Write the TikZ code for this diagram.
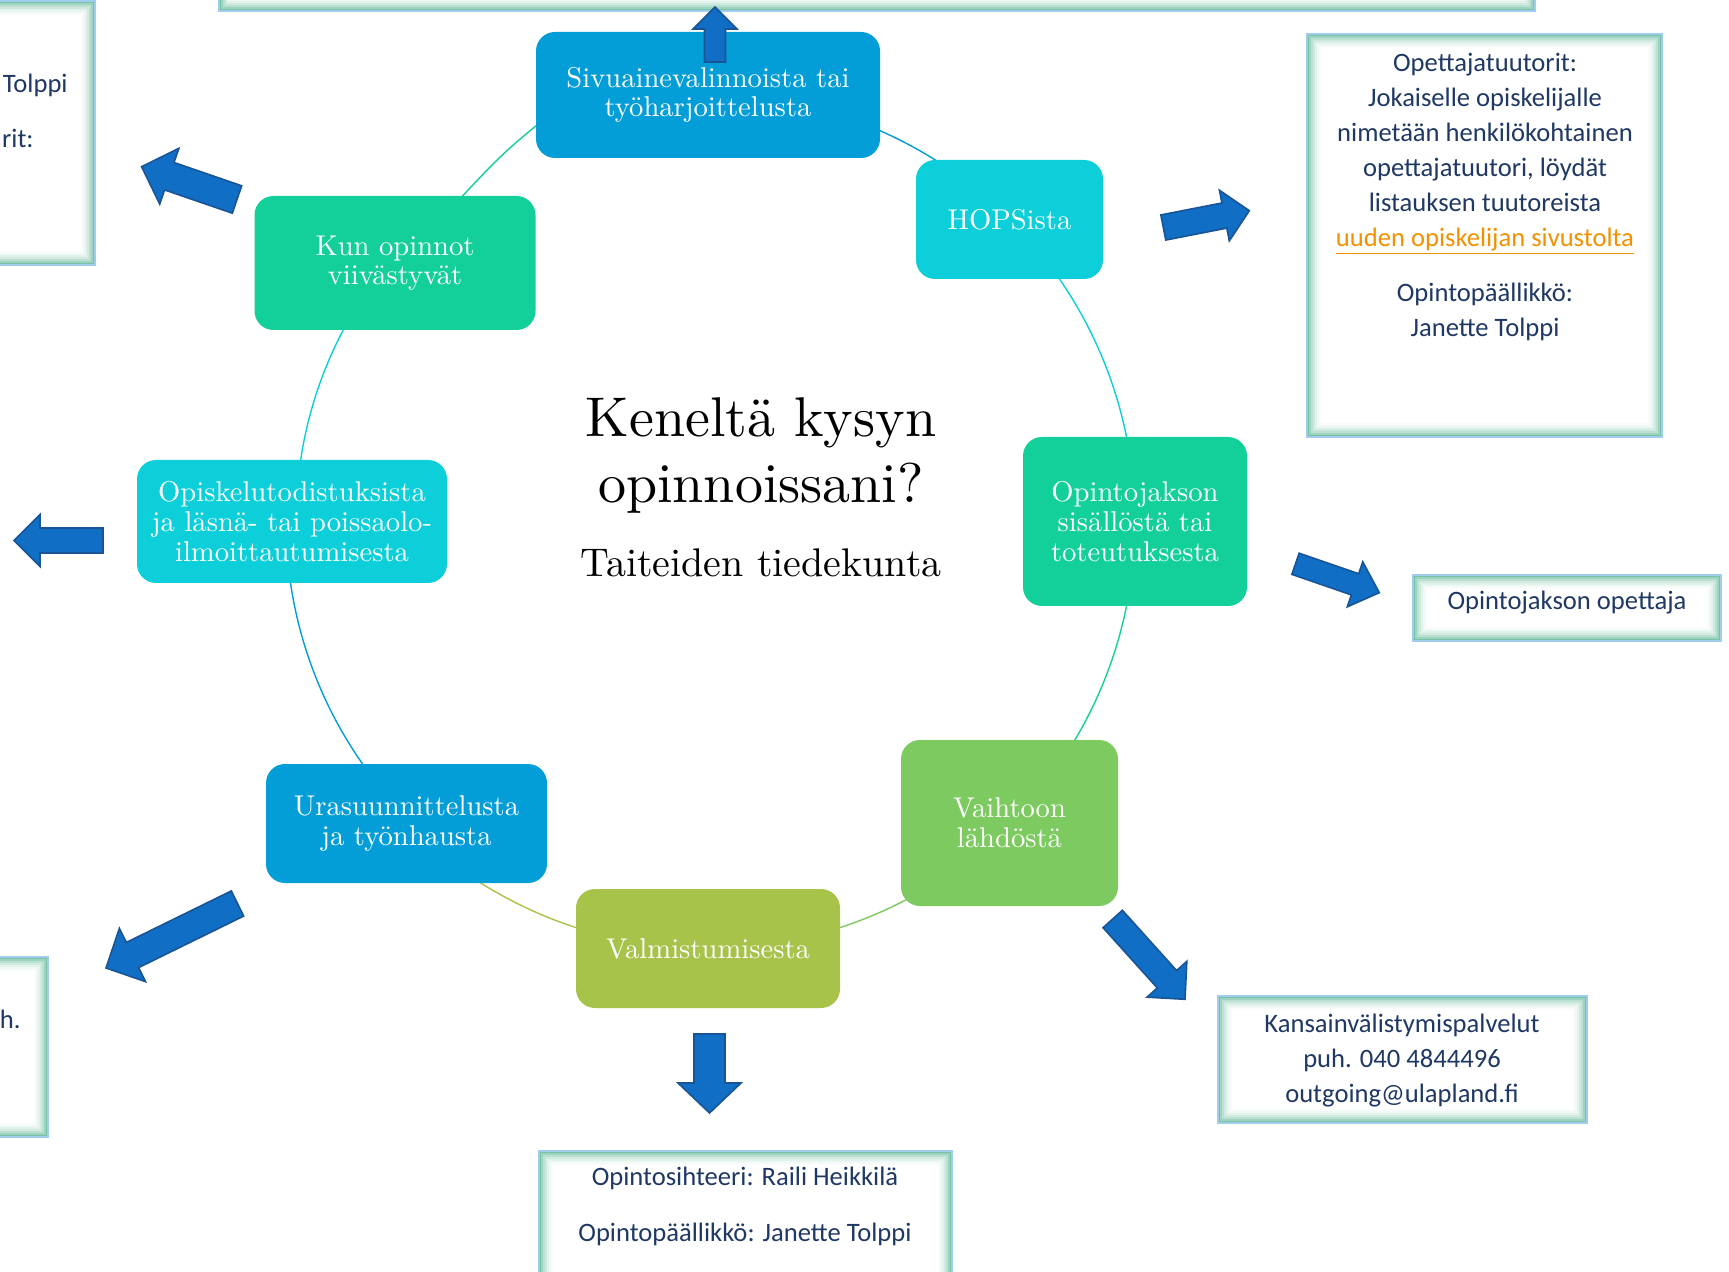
\documentclass[tikz,border=0pt]{standalone}
\usepackage{fontspec}
\setmainfont{lmroman10-regular}[Extension=.otf]
\newfontfamily\carlito{Carlito}
\usetikzlibrary{calc}
\definecolor{cblue}{RGB}{3,157,216}
\definecolor{ccyan}{RGB}{12,207,217}
\definecolor{cgreen}{RGB}{19,208,155}
\definecolor{clgreen}{RGB}{124,202,96}
\definecolor{colive}{RGB}{167,195,74}
\definecolor{arrowblue}{RGB}{16,110,196}
\definecolor{arrowedge}{RGB}{25,85,150}
\definecolor{navy}{RGB}{31,56,100}
\definecolor{linkor}{RGB}{243,145,0}
\definecolor{glowc}{RGB}{105,188,158}
\definecolor{edgec}{RGB}{160,205,235}
\newcommand\cyclefont{\fontsize{14.3pt}{14.8pt}\selectfont}
\newcommand\glowbox[4]{%
  \fill[white] (#1,#2) rectangle (#3,#4);
  \foreach \d/\o in {1/0.9,3/0.65,5/0.46,7/0.31,9/0.19,11/0.1,13/0.04}{%
    \draw[glowc, line width=1pt, opacity=\o] (#1+\d,#2+\d) rectangle (#3-\d,#4-\d);}
  \draw[edgec, line width=0.8pt] (#1,#2) rectangle (#3,#4);
}
\newcommand\blockarrow[6]{%
  \coordinate (#1-t) at #2;
  \coordinate (#1-p) at #3;
  \coordinate (#1-h) at ($(#1-p)!#6!(#1-t)$);
  \draw[barrow] ($(#1-t)!#4!90:(#1-p)$) -- ($(#1-h)!#4!90:(#1-p)$) -- ($(#1-h)!#5!90:(#1-p)$) -- (#1-p)
     -- ($(#1-h)!#5!-90:(#1-p)$) -- ($(#1-h)!#4!-90:(#1-p)$) -- ($(#1-t)!#4!-90:(#1-p)$) -- cycle;
}
\begin{document}
\begin{tikzpicture}[x=0.5pt,y=-0.5pt,
  cnode/.style={rectangle, rounded corners=9.5pt, fill=#1, text=white, font=\cyclefont, align=center, inner sep=0pt},
  itext/.style={font=\carlito\fontsize{13.3pt}{17.5pt}\selectfont, text=navy, align=center, inner sep=0pt},
  barrow/.style={fill=arrowblue, draw=arrowedge, line width=0.8pt, line join=miter},
  seg/.style={line width=0.7pt}]
\useasboundingbox (0,0) rectangle (1729,1272);
\clip (0,0) rectangle (1729,1272);

% side boxes
\glowbox{219}{-100}{1535}{11}
\glowbox{-200}{1}{95}{265}
\glowbox{-200}{957}{48}{1137}
\glowbox{1307}{34}{1662}{437}
\glowbox{1413}{575}{1721}{641}
\glowbox{1218}{996}{1587}{1123}
\glowbox{539}{1151}{952}{1350}

\node[itext, anchor=base east] (t2a) at (68,93) {Tolppi};
\node[itext, anchor=base east] (t2b) at (34,148) {rit:};
\node[itext, anchor=base east] (t3) at (21,1028) {h.};
\node[itext] (t4) at (1485,197) {Opettajatuutorit:\\Jokaiselle opiskelijalle\\nimetään henkilökohtainen\\opettajatuutori, löydät\\listauksen tuutoreista\\{\color{linkor}\underline{uuden opiskelijan sivustolta}}\\[10.3pt]Opintopäällikkö:\\Janette Tolppi};
\node[itext, anchor=base] (t5) at (1567,610) {Opintojakson opettaja};
\node[itext] (t6) at (1402,1060.5) {Kansainvälistymispalvelut\\puh. 040 4844496\\outgoing@ulapland.fi};
\node[itext, anchor=base] (t7a) at (745,1185) {Opintosihteeri: Raili Heikkilä};
\node[itext, anchor=base] (t7b) at (745,1241.7) {Opintopäällikkö: Janette Tolppi};

% cycle arcs
\draw[seg, cblue]   (708,521.5) ++(-90:427) arc[start angle=-90, end angle=-45, radius=427];
\draw[seg, ccyan]   (708,521.5) ++(-45:427) arc[start angle=-45, end angle=0, radius=427];
\draw[seg, cgreen]  (708,521.5) ++(0:427) arc[start angle=0, end angle=45, radius=427];
\draw[seg, clgreen] (708,521.5) ++(45:427) arc[start angle=45, end angle=90, radius=427];
\draw[seg, colive]  (708,521.5) ++(90:427) arc[start angle=90, end angle=135, radius=427];
\draw[seg, cblue]   (708,521.5) ++(143:422) arc[start angle=143, end angle=175, radius=422];
\draw[seg, ccyan]   (708,521.5) ++(185:412) arc[start angle=185, end angle=210, radius=412];
\coordinate (k1) at (445,215);
\coordinate (k2) at (580,91);
\draw[seg, cgreen] (k1) .. controls (505,150) .. (k2);

% title
\node[anchor=base, font=\fontsize{28pt}{33pt}\selectfont, inner sep=0pt] (title1) at (761,437) {Keneltä kysyn};
\node[anchor=base, font=\fontsize{28pt}{33pt}\selectfont, inner sep=0pt] (title2) at (761,503) {opinnoissani?};
\node[anchor=base, font=\fontsize{20pt}{24pt}\selectfont, inner sep=0pt] (sub) at (761,577) {Taiteiden tiedekunta};

% cycle nodes
\node[cnode=cblue, minimum width=172pt, minimum height=63pt] (siv) at (708,95) {Sivuainevalinnoista tai\\työharjoittelusta};
\node[cnode=ccyan, minimum width=93.5pt, minimum height=59.5pt] (hops) at (1009.5,219.5) {HOPSista};
\node[cnode=cgreen, minimum width=112pt, minimum height=84.5pt] (opj) at (1135,521.5) {Opintojakson\\sisällöstä tai\\toteutuksesta};
\node[cnode=clgreen, minimum width=108.5pt, minimum height=83pt] (vaih) at (1009.5,823) {Vaihtoon\\lähdöstä};
\node[cnode=colive, minimum width=132pt, minimum height=59.5pt] (valm) at (708,948.5) {Valmistumisesta};
\node[cnode=cblue, minimum width=140.5pt, minimum height=59.5pt] (uras) at (406.5,823.5) {Urasuunnittelusta\\ja työnhausta};
\node[cnode=ccyan, minimum width=155pt, minimum height=61.5pt] (opisk) at (292,521.5) {Opiskelutodistuksista\\ja läsnä- tai poissaolo-\\ilmoittautumisesta};
\node[cnode=cgreen, minimum width=140.5pt, minimum height=67pt] (kun) at (395,263) {Kun opinnot\\viivästyvät};

% block arrows
\blockarrow{a1}{(715,62)}{(715,7)}{5.25pt}{11pt}{11pt}
\blockarrow{a2}{(237,199.5)}{(141.6,166.7)}{7.25pt}{14.75pt}{14.65pt}
\blockarrow{a3}{(1163.3,227.5)}{(1249.3,210.7)}{6.4pt}{12.9pt}{12.7pt}
\blockarrow{a4}{(103,540.5)}{(14,540.5)}{6.25pt}{13pt}{13pt}
\blockarrow{a5}{(237.5,903.5)}{(106,968)}{7pt}{14.85pt}{14.75pt}
\blockarrow{a6}{(1295.5,563.8)}{(1379.3,592.7)}{5.6pt}{11.9pt}{12.85pt}
\blockarrow{a7}{(1112.7,919)}{(1185,999.3)}{6.5pt}{13.4pt}{13.5pt}
\blockarrow{a8}{(709.5,1034)}{(709.5,1113)}{7.75pt}{15.75pt}{15pt}
\end{tikzpicture}
\end{document}
